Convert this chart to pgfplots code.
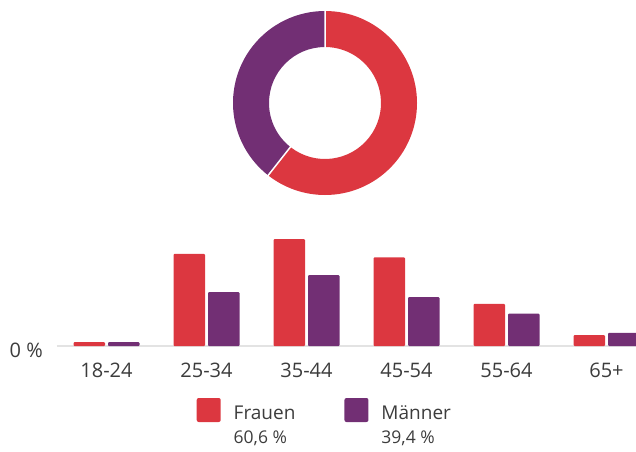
\documentclass[border=0pt]{standalone}
\usepackage{fontspec}
\setmainfont{Open Sans}
\usepackage{pgfplots}
\pgfplotsset{compat=1.18}
\definecolor{cR}{HTML}{DC3740}
\definecolor{cP}{HTML}{722F74}
\definecolor{txt}{HTML}{3C3C3C}
\definecolor{base}{HTML}{E3E3E3}
\begin{document}
\begin{tikzpicture}[x=1pt,y=1pt]
\useasboundingbox (0,0) rectangle (636,451);
\clip (0,0) rectangle (636,451);
% donut shares
\def\frauen{60.6}
\def\maenner{39.4}
\pgfmathsetmacro{\ea}{90-3.6*\frauen}
\pgfmathsetmacro{\eb}{\ea-3.6*\maenner}
\begin{axis}[hide axis, scale only axis, x=1pt, y=1pt,
  xmin=-100, xmax=100, ymin=-100, ymax=100,
  at={(325pt,348pt)}, anchor=center, clip=false]
\fill[cR, shift={(axis cs:0,0)}] (90:92pt) arc[start angle=90, end angle=\ea, radius=92pt] -- (\ea:56pt) arc[start angle=\ea, end angle=90, radius=56pt] -- cycle;
\fill[cP, shift={(axis cs:0,0)}] (\ea:92pt) arc[start angle=\ea, end angle=\eb, radius=92pt] -- (\eb:56pt) arc[start angle=\eb, end angle=\ea, radius=56pt] -- cycle;
\draw[white, line width=1.5pt, shift={(axis cs:0,0)}] (90:55pt) -- (90:93pt) (\ea:55pt) -- (\ea:93pt);
\end{axis}
% bars
\begin{axis}[
  scale only axis, x=100pt, y=5.68pt,
  xmin=-0.5, xmax=5.5, ymin=0, ymax=20,
  at={(56.5pt,105pt)}, anchor=south west,
  ybar, bar width=31.5pt,
  separate axis lines,
  axis x line*=bottom, axis y line*=left,
  x axis line style={base, line width=2pt, -},
  y axis line style={draw=none},
  major tick length=0pt,
  xtick={0,1,2,3,4,5},
  xticklabels={18-24,25-34,35-44,45-54,55-64,65+},
  ytick={0}, yticklabels={0 \%},
  tick label style={font=\fontsize{20}{24}\selectfont, text=txt},
  xticklabel style={inner sep=0pt, anchor=north, yshift=-16.5pt},
  yticklabel style={inner sep=0pt, anchor=east, xshift=-13.5pt, yshift=-4pt},
  legend columns=2,
  legend cell align=left,
  legend image code/.code={\fill[#1, draw=none, rounded corners=2pt] (0pt,3.5pt) rectangle (24pt,27.5pt);},
  legend style={at={(0.2337,-0.4577)}, anchor=north west, draw=none, fill=none,
    inner sep=0pt, outer sep=0pt, column sep=13pt,
    nodes={inner sep=0pt, align=left, text=txt, font=\fontsize{19}{24}\selectfont},
    /tikz/every even column/.append style={column sep=49pt}},
]
\addplot[fill=cR, draw=none, bar shift=-17.25pt, rounded corners=1pt]
  coordinates {(0,0.7) (1,16.2) (2,18.8) (3,15.6) (4,7.4) (5,1.9)};
\addlegendentry{{Frauen\\{\fontsize{17.5}{24}\selectfont 60,6 \%}}}
\addplot[fill=cP, draw=none, bar shift=17.25pt, rounded corners=1pt]
  coordinates {(0,0.7) (1,9.5) (2,12.5) (3,8.6) (4,5.7) (5,2.3)};
\addlegendentry{{Männer\\{\fontsize{17.5}{24}\selectfont 39,4 \%}}}
\end{axis}
\end{tikzpicture}
\end{document}
